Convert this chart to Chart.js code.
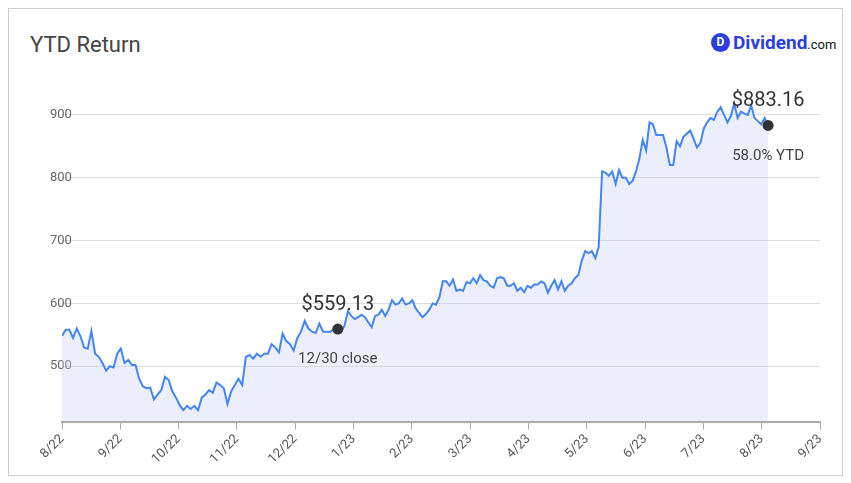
<!DOCTYPE html>
<html>
<head>
<meta charset="UTF-8">
<script src="https://cdn.jsdelivr.net/npm/chart.js"></script>
<style>
  body { margin: 0; background: #fff; font-family: Roboto, sans-serif; }
  .frame { position: absolute; left: 8px; top: 8px; width: 833px; height: 466px; border: 1px solid #ccc; }
  .title { position: absolute; left: 30px; top: 32px; font-size: 22px; color: #444; }
  .logo { position: absolute; left: 711px; top: 31px; font-size: 19px; font-weight: bold; color: #2b3fe0; display: flex; align-items: center; }
  .logo .d { width: 19px; height: 19px; border-radius: 50%; background: #2b3fe0; color: #fff; font-size: 12px; text-align: center; line-height: 19px; margin-right: 3px; }
  .logo .com { font-size: 13px; color: #111; font-weight: normal; margin-top: 4px; }
  #wrap { position: absolute; left: 0; top: 0; width: 851px; height: 483px; }
</style>
</head>
<body>
<div class="frame"></div>
<div class="title">YTD Return</div>
<div class="logo"><span class="d">D</span>Dividend<span class="com">.com</span></div>
<div id="wrap"><canvas id="c" width="851" height="483"></canvas></div>
<script>
const monthLabels = ['8/22','9/22','10/22','11/22','12/22','1/23','2/23','3/23','4/23','5/23','6/23','7/23','8/23','9/23'];
const yTicks = [500, 600, 700, 800, 900];
const prices = [
  548,558,558,545,560,548,530,528,556,520,
  515,505,493,500,498,520,528,505,510,502,
  502,480,468,465,466,447,455,462,483,478,
  460,450,438,430,437,432,437,430,450,455,
  462,458,474,470,465,440,460,470,480,470,
  515,518,512,520,515,520,520,535,530,522,
  552,540,535,525,545,555,572,560,555,553,
  568,555,555,555,560,559.13,555,565,588,580,
  575,578,582,578,570,562,580,582,590,580,
  590,605,598,600,608,598,600,605,592,585,
  578,583,590,600,598,610,635,635,628,638,
  620,622,620,634,632,640,632,645,637,635,
  628,625,640,642,640,628,628,632,620,625,
  618,628,625,630,630,635,632,617,628,637,
  622,635,620,628,632,640,645,668,683,680,
  683,672,690,810,808,803,810,790,812,800,
  800,790,795,810,830,860,843,888,885,868,
  868,868,848,820,820,858,850,865,870,875,
  862,848,855,878,888,895,892,905,912,900,
  888,898,918,895,905,902,900,915,895,890,
  885,895,883.16
];
// sample index -> position in months since 8/22
const dateAnchors = [[0, 0], [75, 4.73], [202, 12.11]];
const closeIdx = 75;
const lastIdx = prices.length - 1;
const notes = { [closeIdx]: ['$559.13', '12/30 close'], [lastIdx]: ['$883.16', '58.0% YTD'] };

function monthPos(i) {
  for (let k = 1; k < dateAnchors.length; k++) {
    const [i0, m0] = dateAnchors[k - 1], [i1, m1] = dateAnchors[k];
    if (i <= i1) return m0 + (m1 - m0) * (i - i0) / (i1 - i0);
  }
  return dateAnchors[dateAnchors.length - 1][1];
}

const points = prices.map((v, i) => ({ x: monthPos(i), y: v }));

const notePlugin = {
  id: 'notes',
  afterDatasetsDraw(chart) {
    const ctx = chart.ctx;
    const meta = chart.getDatasetMeta(0);
    ctx.save();
    ctx.textAlign = 'center';
    for (const idx in notes) {
      const p = meta.data[idx];
      ctx.fillStyle = '#333';
      ctx.font = '20px Roboto';
      ctx.textBaseline = 'bottom';
      ctx.fillText(notes[idx][0], p.x, p.y - 14);
      ctx.fillStyle = '#444';
      ctx.font = '15px Roboto';
      ctx.textBaseline = 'top';
      ctx.fillText(notes[idx][1], p.x, p.y + 23);
    }
    ctx.restore();
  }
};

new Chart(document.getElementById('c'), {
  type: 'line',
  data: {
    datasets: [{
      data: points,
      borderColor: '#4285f4',
      borderWidth: 2,
      backgroundColor: 'rgba(200,206,245,0.35)',
      fill: 'start',
      tension: 0,
      pointRadius: prices.map((v, i) => (notes[i] ? 4.5 : 0)),
      pointBackgroundColor: '#333',
      pointBorderColor: '#333'
    }]
  },
  options: {
    responsive: false,
    animation: false,
    devicePixelRatio: 1,
    layout: { padding: { left: 62, right: 31, top: 52, bottom: 14 } },
    plugins: { legend: { display: false }, tooltip: { enabled: false } },
    scales: {
      x: {
        type: 'linear', min: 0, max: 13,
        afterBuildTicks: s => { s.ticks = monthLabels.map((_, i) => ({ value: i })); },
        ticks: { callback: v => monthLabels[v], minRotation: 45, maxRotation: 45, color: '#555', font: { size: 13, family: 'Roboto' }, padding: 2 },
        grid: { drawOnChartArea: false, tickLength: 8, color: '#aaa' },
        border: { color: '#aaa', width: 2 }
      },
      y: {
        min: 412, max: 1000,
        afterBuildTicks: s => { s.ticks = yTicks.map(v => ({ value: v })); },
        afterFit: s => { s.width = 0; },
        ticks: { mirror: true, padding: -12, color: '#666', font: { size: 13, family: 'Roboto' } },
        grid: { color: '#ddd', drawTicks: false },
        border: { display: false }
      }
    }
  },
  plugins: [notePlugin]
});
</script>
</body>
</html>
